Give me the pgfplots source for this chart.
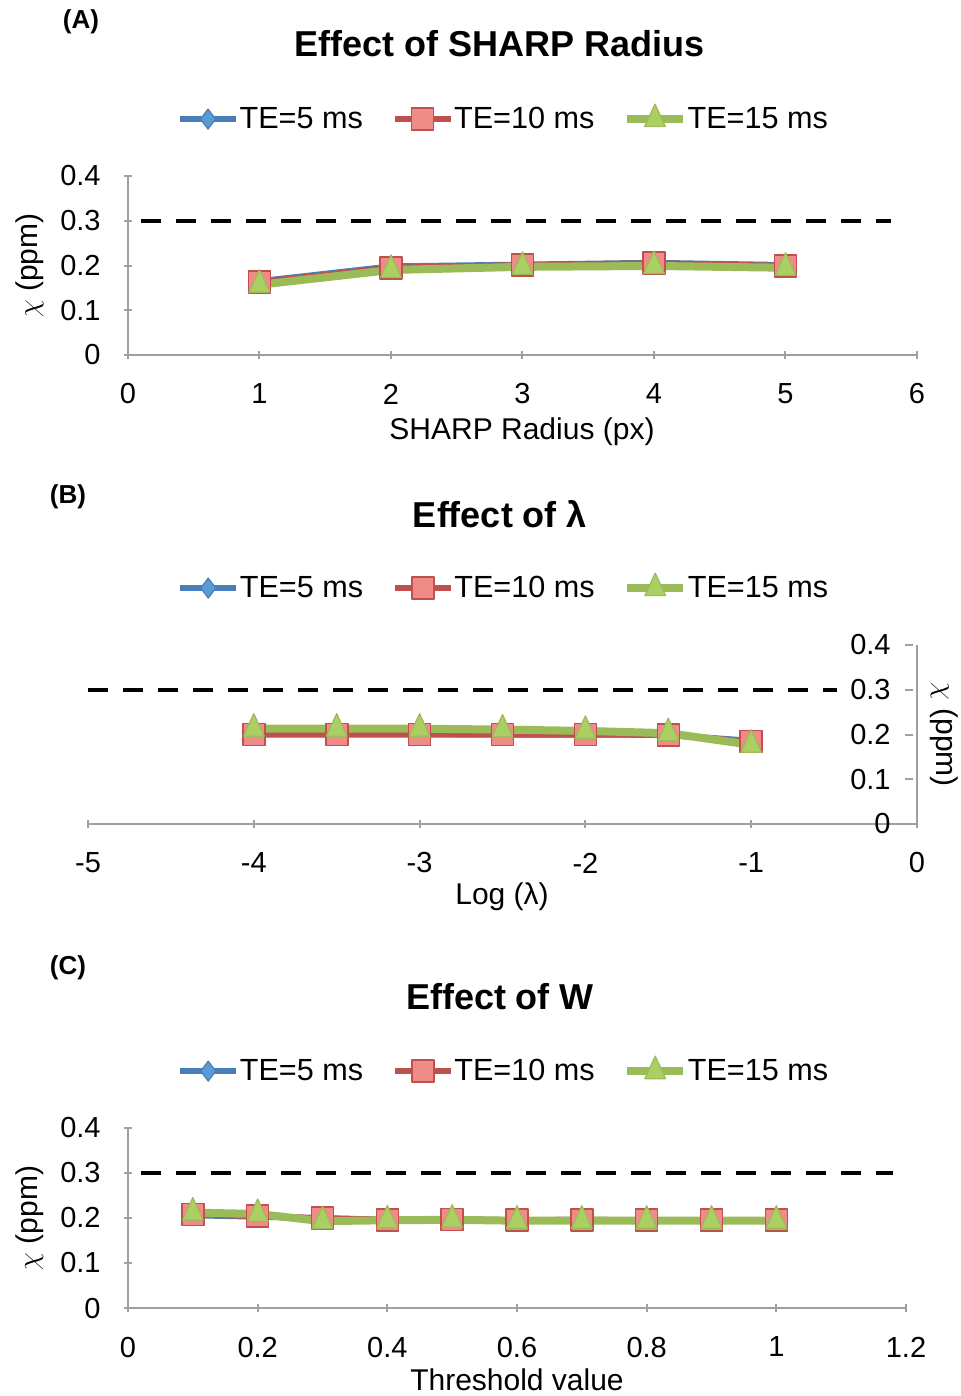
\documentclass[border=0pt]{standalone}
\usepackage{fontspec}
\setmainfont{Liberation Sans}
\usepackage{pgfplots}
\pgfplotsset{compat=1.18}
\definecolor{axgray}{RGB}{160,160,160}
\definecolor{bluel}{RGB}{74,126,187}
\definecolor{bluef}{RGB}{91,155,213}
\definecolor{redl}{RGB}{192,80,77}
\definecolor{redf}{RGB}{240,140,136}
\definecolor{greenl}{RGB}{155,187,89}
\definecolor{greenf}{RGB}{172,207,100}
\tikzset{lab/.style={font=\fontsize{15}{18}\selectfont}}

\pgfplotsset{
 panel/.style={
  scale only axis,
  tick style={axgray, line width=1pt},
  major tick length=4pt,
  tick align=outside,
  ymin=0, ymax=0.4,
  ytick={0,0.1,0.2,0.3,0.4},
  yticklabels={0,0.1,0.2,0.3,0.4},
  tick label style={font=\fontsize{14.5}{17}\selectfont, inner sep=0pt},
  xticklabel style={anchor=center, yshift=-17.5pt},
  clip=false,
  legend columns=3,
  legend style={draw=none, fill=none, font=\fontsize{15.3}{18}\selectfont, anchor=center,
    /tikz/every even column/.append style={column sep=14pt}, nodes={inner sep=0.3pt}},
  legend image code/.code={\draw[mark repeat=2,mark phase=2,#1] plot coordinates {(0pt,0pt) (14pt,0pt) (28pt,0pt)};},
 },
 noarrow/.style={axis line style={-, axgray, line width=1pt},
   every outer x axis line/.append style={-}, every outer y axis line/.append style={-}},
 s5/.style={bluel, line width=3pt, line join=round, mark=diamond*, mark size=5pt, mark options={fill=bluef, draw=bluel, line width=0.6pt, solid}},
 s10/.style={redl, line width=3pt, line join=round, mark=square*, mark size=5.5pt, mark options={fill=redf, draw=redl, line width=0.8pt}},
 s15/.style={greenl, line width=4pt, line join=round, mark=triangle*, mark size=6pt, mark options={fill=greenf, draw=greenl, line width=0.6pt, yscale=1.25}},
 refl/.style={black, line width=2pt, dash pattern=on 10pt off 7.5pt, forget plot, mark=none},
}

\begin{document}
\begin{tikzpicture}
\useasboundingbox (0,0) rectangle (480.5pt,-698pt);
% ---------- Panel A
\node[font=\bfseries\fontsize{13}{15}\selectfont] at (40.5pt,-11pt) {(A)};
\node[font=\bfseries\fontsize{18}{21}\selectfont] at (249.75pt,-22pt) {Effect of SHARP Radius};
\begin{axis}[panel, at={(64pt,-177.5pt)}, anchor=south west, width=394.5pt, height=89.5pt,
  axis x line=bottom, axis y line=left, noarrow,
  xmin=0, xmax=6, xtick={0,1,2,3,4,5,6}, xticklabels={0,1,2,3,4,5,6},
  yticklabel style={anchor=east, xshift=-11.5pt},
  xlabel={SHARP Radius (px)}, xlabel style={lab, at={(axis description cs:0.4994,-0.43)}, anchor=center},
  ylabel={$\chi$ (ppm)}, ylabel style={lab, at={(axis description cs:-0.124,0.5)}, anchor=center},
  legend style={at={(axis description cs:0.475,1.324)}}]
\addplot[refl] coordinates {(0.1,0.3) (5.8,0.3)};
\addplot[s5] coordinates {(1,0.165) (2,0.198) (3,0.202) (4,0.206) (5,0.201)};
\addplot[s10] coordinates {(1,0.163) (2,0.195) (3,0.201) (4,0.205) (5,0.199)};
\addplot[s15] coordinates {(1,0.157) (2,0.190) (3,0.197) (4,0.199) (5,0.195)};
\legend{TE=5 ms, TE=10 ms, TE=15 ms}
\end{axis}
% ---------- Panel B
\node[font=\bfseries\fontsize{13}{15}\selectfont] at (34pt,-248.5pt) {(B)};
\node[font=\bfseries\fontsize{18}{21}\selectfont] at (250pt,-257pt) {Effect of λ};
\begin{axis}[panel, at={(44pt,-412pt)}, anchor=south west, width=414.5pt, height=89.5pt,
  axis x line=bottom, axis y line=right, noarrow,
  every major y tick/.append style={xshift=-4pt},
  xmin=-5, xmax=0, xtick={-5,-4,-3,-2,-1,0}, xticklabels={-5,-4,-3,-2,-1,0},
  yticklabel style={anchor=east, xshift=-15pt},
  xlabel={Log (λ)}, xlabel style={lab, at={(axis description cs:0.4994,-0.408)}, anchor=center},
  ylabel={$\chi$ (ppm)}, ylabel style={lab, at={(axis description cs:1.0326,0.5)}, anchor=center, rotate=180},
  legend style={at={(axis description cs:0.5006,1.324)}}]
\addplot[refl] coordinates {(-5,0.3) (-0.48,0.3)};
\addplot[s5] coordinates {(-4,0.201) (-3.5,0.201) (-3,0.201) (-2.5,0.200) (-2,0.200) (-1.5,0.199) (-1,0.186)};
\addplot[s10] coordinates {(-4,0.200) (-3.5,0.200) (-3,0.200) (-2.5,0.200) (-2,0.200) (-1.5,0.199) (-1,0.184)};
\addplot[s15] coordinates {(-4,0.213) (-3.5,0.213) (-3,0.213) (-2.5,0.211) (-2,0.208) (-1.5,0.203) (-1,0.177)};
\legend{TE=5 ms, TE=10 ms, TE=15 ms}
\end{axis}
% ---------- Panel C
\node[font=\bfseries\fontsize{13}{15}\selectfont] at (34pt,-484pt) {(C)};
\node[font=\bfseries\fontsize{18}{21}\selectfont] at (250pt,-498.5pt) {Effect of W};
\begin{axis}[panel, at={(64pt,-654pt)}, anchor=south west, width=389pt, height=90pt,
  axis x line=bottom, axis y line=left, noarrow,
  xmin=0, xmax=1.2, xtick={0,0.2,0.4,0.6,0.8,1,1.2}, xticklabels={0,0.2,0.4,0.6,0.8,1,1.2},
  yticklabel style={anchor=east, xshift=-11.5pt},
  xlabel={Threshold value}, xlabel style={lab, at={(axis description cs:0.5,-0.4)}, anchor=center},
  ylabel={$\chi$ (ppm)}, ylabel style={lab, at={(axis description cs:-0.126,0.5)}, anchor=center},
  legend style={at={(axis description cs:0.482,1.322)}}]
\addplot[refl] coordinates {(0.02,0.3) (1.18,0.3)};
\addplot[s5] coordinates {(0.1,0.206) (0.2,0.203) (0.3,0.199) (0.4,0.196) (0.5,0.197) (0.6,0.195) (0.7,0.196) (0.8,0.195) (0.9,0.195) (1,0.195)};
\addplot[s10] coordinates {(0.1,0.208) (0.2,0.204) (0.3,0.200) (0.4,0.196) (0.5,0.197) (0.6,0.195) (0.7,0.196) (0.8,0.195) (0.9,0.195) (1,0.195)};
\addplot[s15] coordinates {(0.1,0.212) (0.2,0.209) (0.3,0.193) (0.4,0.195) (0.5,0.196) (0.6,0.194) (0.7,0.194) (0.8,0.194) (0.9,0.194) (1,0.194)};
\legend{TE=5 ms, TE=10 ms, TE=15 ms}
\end{axis}
\end{tikzpicture}
\end{document}
